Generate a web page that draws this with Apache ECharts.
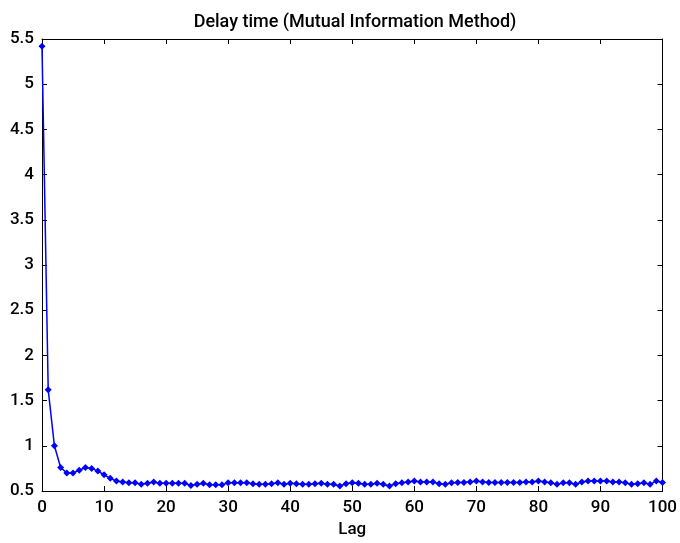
<!DOCTYPE html>
<html>
<head>
<meta charset="utf-8">
<script src="https://cdn.jsdelivr.net/npm/echarts@6/dist/echarts.min.js"></script>
<style>html,body{margin:0;padding:0;background:#fff}#c{width:680px;height:543px}</style>
</head>
<body>
<div id="c"></div>
<script>
const titleText = 'Delay time (Mutual Information Method)';
const xLabel = 'Lag';
const lags = Array.from({length: 101}, (_, i) => i);
const mutualInfo = [
  5.42, 1.62, 1.00, 0.76, 0.70, 0.70, 0.73, 0.76, 0.75, 0.72,
  0.68, 0.64, 0.61, 0.60, 0.59, 0.59, 0.575, 0.585, 0.60, 0.585,
  0.585, 0.585, 0.585, 0.585, 0.56, 0.575, 0.585, 0.57, 0.57, 0.57,
  0.59, 0.59, 0.59, 0.59, 0.58, 0.575, 0.575, 0.58, 0.59, 0.575,
  0.585, 0.58, 0.575, 0.575, 0.58, 0.585, 0.575, 0.575, 0.555, 0.58,
  0.59, 0.585, 0.575, 0.575, 0.585, 0.575, 0.555, 0.58, 0.59, 0.60,
  0.61, 0.60, 0.60, 0.60, 0.58, 0.575, 0.59, 0.595, 0.595, 0.60,
  0.61, 0.60, 0.595, 0.595, 0.595, 0.595, 0.595, 0.595, 0.60, 0.60,
  0.61, 0.60, 0.59, 0.575, 0.59, 0.59, 0.575, 0.60, 0.61, 0.61,
  0.61, 0.61, 0.60, 0.60, 0.59, 0.575, 0.58, 0.59, 0.575, 0.61,
  0.595
];
const xMin = 0, xMax = 100, xStep = 10;
const yMin = 0.5, yMax = 5.5, yStep = 0.5;

const chart = echarts.init(document.getElementById('c'));
const font = 'Roboto, Liberation Sans, Arial, sans-serif';
const axisCommon = {
  axisLine: {show: true, onZero: false, lineStyle: {color: '#000', width: 1}},
  axisTick: {show: true, inside: true, length: 5, lineStyle: {color: '#000'}},
  splitLine: {show: false}
};
chart.setOption({
  animation: false,
  backgroundColor: '#fff',
  title: {
    text: titleText, left: 350, top: 8, textAlign: 'center',
    textStyle: {fontFamily: font, fontSize: 18, fontWeight: 500, color: '#000'}
  },
  grid: {left: 42, right: 15, top: 39, bottom: 48},
  xAxis: [
    Object.assign({}, axisCommon, {
      type: 'value', min: xMin, max: xMax, interval: xStep, position: 'bottom',
      name: xLabel, nameLocation: 'middle', nameGap: 30,
      nameTextStyle: {fontFamily: font, fontSize: 17, fontWeight: 500, color: '#000'},
      axisLabel: {fontFamily: font, fontSize: 17, fontWeight: 500, color: '#000', margin: 8}
    }),
    Object.assign({}, axisCommon, {
      type: 'value', min: xMin, max: xMax, interval: xStep, position: 'top',
      axisLabel: {show: false}
    })
  ],
  yAxis: [
    Object.assign({}, axisCommon, {
      type: 'value', min: yMin, max: yMax, interval: yStep, position: 'left',
      axisLabel: {fontFamily: font, fontSize: 17, fontWeight: 500, color: '#000', margin: 8}
    }),
    Object.assign({}, axisCommon, {
      type: 'value', min: yMin, max: yMax, interval: yStep, position: 'right',
      axisLabel: {show: false}
    })
  ],
  series: [{
    type: 'line',
    data: lags.map((l, i) => [l, mutualInfo[i]]),
    symbol: 'diamond', symbolSize: 7, showSymbol: true,
    lineStyle: {color: '#0000ff', width: 1.5},
    itemStyle: {color: '#0000ff'},
    clip: false
  }]
});
</script>
</body>
</html>
